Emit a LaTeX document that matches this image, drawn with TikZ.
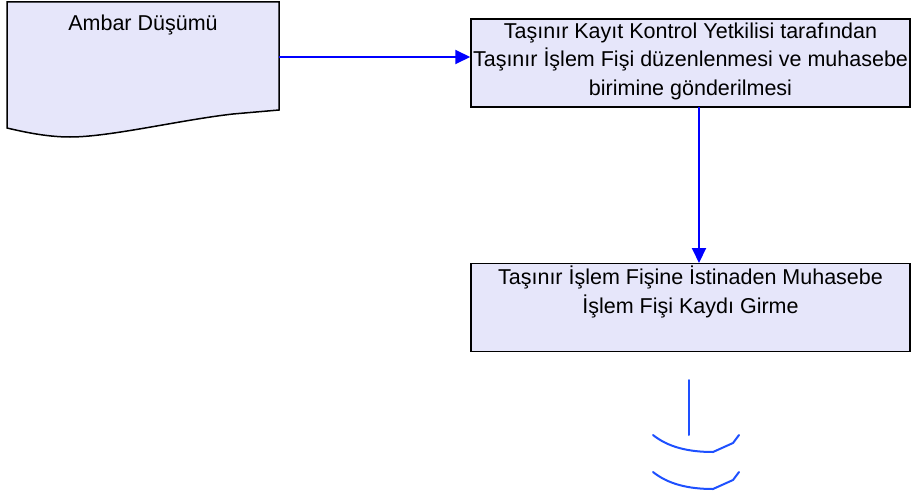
\documentclass[tikz,border=0pt]{standalone}
\usepackage{fontspec}
\setmainfont{Liberation Sans}
\usetikzlibrary{arrows.meta}
\definecolor{boxfill}{HTML}{E6E6FA}
\definecolor{flowblue}{HTML}{0000FF}
\definecolor{arcblue}{HTML}{1E50FF}
\tikzset{
  procbox/.style={draw=black, line width=1.5pt, fill=boxfill, minimum width=439pt, minimum height=88pt, inner sep=0pt},
  lbl/.style={align=center, font=\fontsize{21.5pt}{28.5pt}\selectfont, inner sep=0pt},
  flow/.style={draw=flowblue, line width=2pt, -{Triangle[length=15pt,width=14pt]}},
  brk/.style={draw=arcblue, line width=2pt, line cap=round}
}
\begin{document}
\begin{tikzpicture}[x=1pt,y=-1pt]
\useasboundingbox (0,0) rectangle (912,495);
% document shape
\node[minimum width=272pt, minimum height=110pt, inner sep=0pt] (doc) at (143,57) {};
\path[draw=black, line width=1.5pt, fill=boxfill]
  (7,2) -- (279,2) -- (279,110) -- (233,114)
  .. controls (180,120) and (110,137) .. (70,137)
  .. controls (45,137) and (20,131) .. (7,128) -- cycle;
\node[lbl] (doclbl) at (143,25) {Ambar Düşümü};
% process boxes
\node[procbox] (b1) at (690.5,63) {};
\node[lbl] (b1lbl) at (690.5,61) {Taşınır Kayıt Kontrol Yetkilisi tarafından\\Taşınır İşlem Fişi düzenlenmesi ve muhasebe\\birimine gönderilmesi};
\node[procbox] (b2) at (690.5,307.5) {};
\node[lbl, anchor=north] (b2lbl) at (690.5,266) {Taşınır İşlem Fişine İstinaden Muhasebe\\İşlem Fişi Kaydı Girme};
% connectors
\draw[flow] (doc.east) -- (doc.east -| b1.west);
\coordinate (b1out) at (699,107);
\coordinate (b2in) at (699,263);
\draw[flow] (b1out) -- (b2in);
% off-page break symbol
\coordinate (brktop) at (689,380);
\coordinate (brkbot) at (689,435);
\draw[brk] (brktop) -- (brkbot);
\draw[brk] (653,435) .. controls (668,447) and (688,452) .. (713,452) -- (733,443) -- (739,435);
\draw[brk] (653,472) .. controls (668,484) and (688,489) .. (713,489) -- (733,480) -- (739,472);
\end{tikzpicture}
\end{document}
